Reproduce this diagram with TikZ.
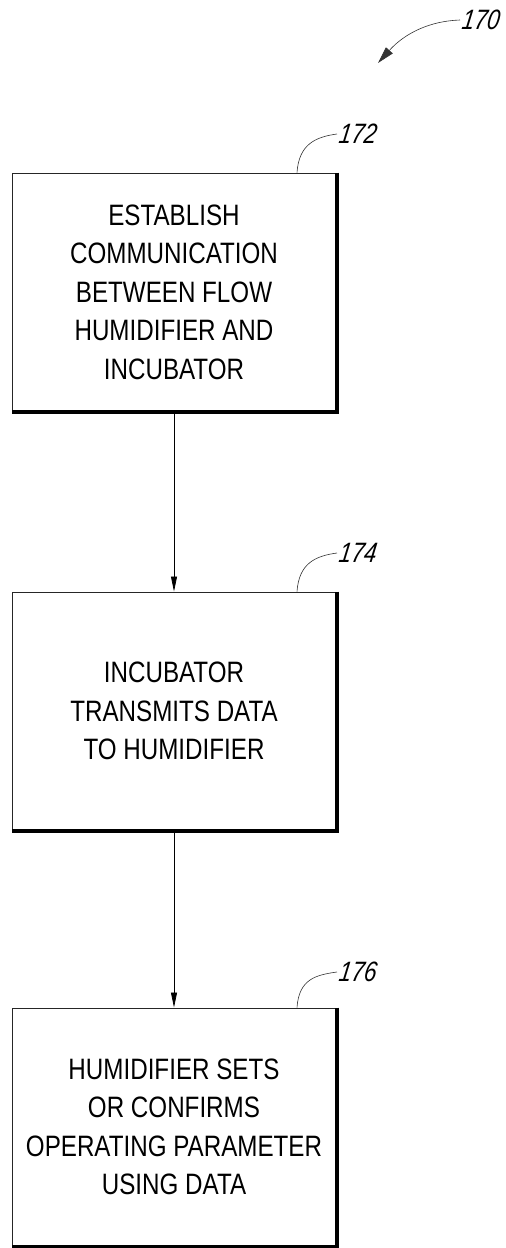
\documentclass[tikz,border=0pt]{standalone}
\usepackage{fontspec}
\setmainfont[FakeStretch=0.82]{Liberation Sans}
\newfontfamily\reffont[FakeStretch=0.8,FakeSlant=0.15]{Liberation Sans}
\usetikzlibrary{arrows.meta}
\begin{document}
\begin{tikzpicture}[x=1pt,y=-1pt,
  stepbox/.style={draw=black!85, line width=1pt, minimum width=324pt, minimum height=238pt,
    align=center, font=\fontsize{29.5}{38.5}\selectfont, inner sep=0pt},
  shadowline/.style={line width=4pt},
  flow/.style={-{Triangle[length=15pt,width=6pt]}, line width=0.8pt},
  leader/.style={line width=0.6pt, black!80},
  reflabel/.style={font=\fontsize{28}{28}\reffont\itshape, anchor=west, inner sep=1pt}]
\useasboundingbox (0,0) rectangle (506,1248);

\node[stepbox] (b1) at (174,292) {ESTABLISH\\COMMUNICATION\\BETWEEN FLOW\\HUMIDIFIER AND\\INCUBATOR};
\node[stepbox] (b2) at (174,711) {INCUBATOR\\TRANSMITS DATA\\TO HUMIDIFIER};
\node[stepbox] (b3) at (174,1127) {HUMIDIFIER SETS\\OR CONFIRMS\\OPERATING PARAMETER\\USING DATA};

\foreach \b in {b1,b2,b3}
  \draw[shadowline] (\b.north east) -- (\b.south east) -- (\b.south west);

\draw[flow] (b1.south) -- (b2.north);
\draw[flow] (b2.south) -- (b3.north);

\node[reflabel] (l172) at (337,134) {172};
\node[reflabel] (l174) at (337,553) {174};
\node[reflabel] (l176) at (337,972) {176};
\node[reflabel] (l170) at (460,20) {170};

\draw[leader] ([xshift=123pt]b1.north) .. controls +(2,-28) and +(-22,3) .. (l172.west);
\draw[leader] ([xshift=123pt]b2.north) .. controls +(2,-28) and +(-22,3) .. (l174.west);
\draw[leader] ([xshift=123pt]b3.north) .. controls +(2,-28) and +(-22,3) .. (l176.west);

\coordinate (a170) at (378,63);
\draw[leader, -{Triangle[length=17pt,width=9pt]}] (l170.west) .. controls (430,21) and (405,33) .. (a170);
\end{tikzpicture}
\end{document}
